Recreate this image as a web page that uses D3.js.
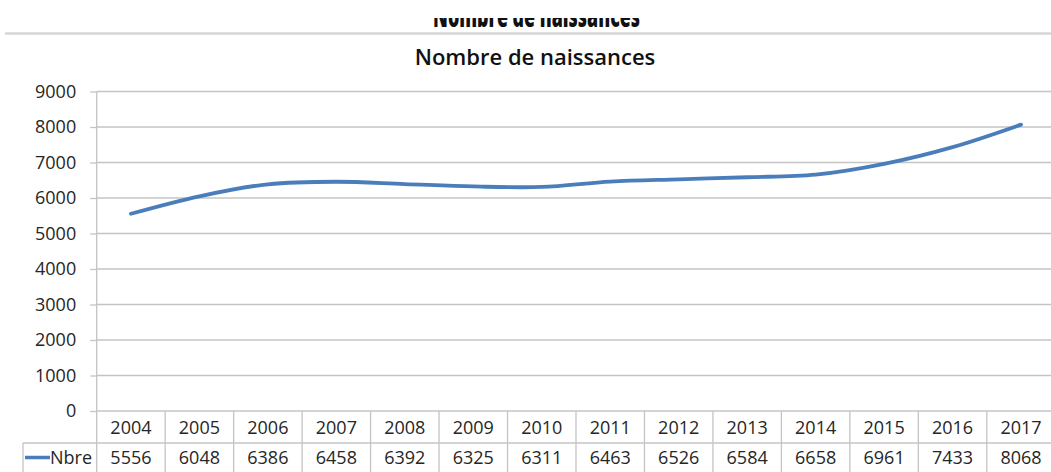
<!DOCTYPE html>
<html>
<head>
<meta charset="utf-8">
<script src="https://cdn.jsdelivr.net/npm/d3@7"></script>
<style>
  body { margin: 0; background: #fff; }
  svg { display: block; }
  text { font-family: "Open Sans", sans-serif; fill: #404040; }
</style>
</head>
<body>
<div id="chart"></div>
<script>
// data
var years = ["2004", "2005", "2006", "2007", "2008", "2009", "2010", "2011", "2012", "2013", "2014", "2015", "2016", "2017"];
var naissances = [5556, 6048, 6386, 6458, 6392, 6325, 6311, 6463, 6526, 6584, 6658, 6961, 7433, 8068];
var yTicks = [0, 1000, 2000, 3000, 4000, 5000, 6000, 7000, 8000, 9000];
var seriesName = "Nbre";
var title = "Nombre de naissances";

var svgWidth = 1051;
var svgHeight = 472;

var svg = d3.select("#chart")
  .append("svg")
  .attr("width", svgWidth)
  .attr("height", svgHeight);

// scales
var xScale = d3.scaleBand()
  .domain(years)
  .range([96.7, 96.7 + 14 * 68.47]);

var yScale = d3.scaleLinear()
  .domain([0, 9000])
  .range([411, 91.5]);

var rowSep = 443;
var tableBottom = 472;
var gridColor = "#c4c4c4";
var textColor = "#262626";

// cut-off title of the previous chart at the top
svg.append("clipPath").attr("id", "topclip")
  .append("rect").attr("x", 0).attr("y", 18).attr("width", svgWidth).attr("height", 11);

svg.append("text")
  .attr("clip-path", "url(#topclip)")
  .attr("x", 433)
  .attr("y", 27)
  .attr("textLength", 207)
  .attr("lengthAdjust", "spacingAndGlyphs")
  .style("font-size", "30px")
  .style("font-weight", 800)
  .style("fill", "#111")
  .text(title);

svg.append("line")
  .attr("x1", 5).attr("x2", svgWidth)
  .attr("y1", 33.5).attr("y2", 33.5)
  .attr("stroke", "#d6d6d6")
  .attr("stroke-width", 2.5);

// chart title
svg.append("text")
  .attr("x", 535)
  .attr("y", 65)
  .attr("text-anchor", "middle")
  .style("font-size", "22px")
  .style("font-weight", 600)
  .style("fill", "#111")
  .text(title);

// gridlines
svg.append("g")
  .selectAll("line")
  .data(yTicks.slice(1))
  .enter()
  .append("line")
  .attr("x1", 96.7).attr("x2", svgWidth)
  .attr("y1", d => yScale(d)).attr("y2", d => yScale(d))
  .attr("stroke", gridColor)
  .attr("stroke-width", 1.3);

// y axis
var leftAxis = d3.axisLeft(yScale)
  .tickValues(yTicks)
  .tickSize(6.5)
  .tickPadding(14)
  .tickFormat(d3.format("d"));

var yAxisG = svg.append("g")
  .attr("transform", "translate(96.7,0)")
  .call(leftAxis);

yAxisG.select(".domain").remove();
yAxisG.selectAll(".tick line").attr("stroke", gridColor).attr("stroke-width", 1.3);
yAxisG.selectAll(".tick text")
  .style("font-size", "18px")
  .style("fill", textColor)
  .attr("font-family", null);

// axis line running down through the table
svg.append("line")
  .attr("x1", 96.7).attr("x2", 96.7)
  .attr("y1", yScale(9000)).attr("y2", tableBottom)
  .attr("stroke", gridColor)
  .attr("stroke-width", 1.3);

// x axis / table top
svg.append("line")
  .attr("x1", 96.7).attr("x2", svgWidth)
  .attr("y1", yScale(0)).attr("y2", yScale(0))
  .attr("stroke", gridColor)
  .attr("stroke-width", 1.3);

// table row separator and legend cell
svg.append("line")
  .attr("x1", 23).attr("x2", svgWidth)
  .attr("y1", rowSep).attr("y2", rowSep)
  .attr("stroke", gridColor)
  .attr("stroke-width", 1.3);

svg.append("line")
  .attr("x1", 23).attr("x2", 23)
  .attr("y1", rowSep).attr("y2", tableBottom)
  .attr("stroke", gridColor)
  .attr("stroke-width", 1.3);

// table column separators
svg.append("g")
  .selectAll("line")
  .data(years.slice(1))
  .enter()
  .append("line")
  .attr("x1", d => xScale(d)).attr("x2", d => xScale(d))
  .attr("y1", yScale(0)).attr("y2", tableBottom)
  .attr("stroke", gridColor)
  .attr("stroke-width", 1.3);

// year row
svg.append("g")
  .selectAll("text")
  .data(years)
  .enter()
  .append("text")
  .attr("x", d => xScale(d) + xScale.bandwidth() / 2)
  .attr("y", 434)
  .attr("text-anchor", "middle")
  .style("font-size", "18px")
  .style("fill", textColor)
  .text(d => d);

// value row
svg.append("g")
  .selectAll("text")
  .data(naissances)
  .enter()
  .append("text")
  .attr("x", (d, i) => xScale(years[i]) + xScale.bandwidth() / 2)
  .attr("y", 464)
  .attr("text-anchor", "middle")
  .style("font-size", "18px")
  .style("fill", textColor)
  .text(d => d);

// legend key in the table
svg.append("line")
  .attr("x1", 25).attr("x2", 50)
  .attr("y1", 457.5).attr("y2", 457.5)
  .attr("stroke", "#4a7ebb")
  .attr("stroke-width", 3.5);

svg.append("text")
  .attr("x", 50)
  .attr("y", 464)
  .style("font-size", "18px")
  .style("fill", textColor)
  .text(seriesName);

// the line
var line = d3.line()
  .x((d, i) => xScale(years[i]) + xScale.bandwidth() / 2)
  .y(d => yScale(d))
  .curve(d3.curveCatmullRom.alpha(0.5));

svg.append("path")
  .datum(naissances)
  .attr("d", line)
  .attr("fill", "none")
  .attr("stroke", "#4a7ebb")
  .attr("stroke-width", 3.8)
  .attr("stroke-linecap", "round");
</script>
</body>
</html>
